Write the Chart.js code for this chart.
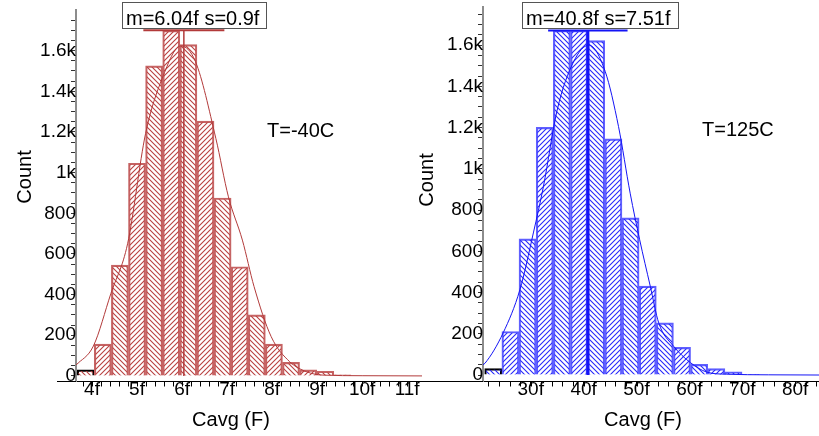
<!DOCTYPE html>
<html>
<head>
<meta charset="utf-8">
<script src="https://cdn.jsdelivr.net/npm/chart.js@4.4.1/dist/chart.umd.min.js"></script>
<style>
  body { margin: 0; background: #fff; }
  #wrap { position: relative; width: 819px; height: 436px; overflow: hidden; }
  canvas { position: absolute; top: 0; }
  #cold { left: 0; }
  #hot { left: 410px; }
</style>
</head>
<body>
<div id="wrap">
  <canvas id="cold" width="423" height="436"></canvas>
  <canvas id="hot" width="409" height="436"></canvas>
</div>
<script>
// T=-40C histogram (bin centres in fF, counts)
var coldBins = [3.86, 4.24, 4.62, 5.00, 5.38, 5.76, 6.14, 6.52, 6.90, 7.28, 7.66, 8.04, 8.42, 8.80, 9.18, 9.56];
var coldCounts = [30, 156, 545, 1046, 1525, 1700, 1630, 1253, 875, 537, 300, 156, 67, 30, 23, 5];
// fitted normal curve
var coldFitX = [3.644, 4.03, 4.42, 4.79, 5.19, 5.56, 5.97, 6.30, 6.75, 7.03, 7.34, 7.60, 7.98, 8.39, 8.76, 9.13, 10.0, 11.33];
var coldFitY = [53, 147, 406, 650, 1193, 1464, 1623, 1545, 1169, 881, 668, 439, 193, 70, 21, 4, 1, 0];
var coldMean = 6.04;
var coldSigma = 0.9;
var coldTickValues = [4, 5, 6, 7, 8, 9, 10, 11];
var coldTickLabels = ['4f', '5f', '6f', '7f', '8f', '9f', '10f', '11f'];

// T=125C histogram
var hotBins = [22.92, 26.17, 29.41, 32.66, 35.90, 39.14, 42.38, 45.63, 48.87, 52.12, 55.36, 58.60, 61.84, 65.09, 68.33, 71.58];
var hotCounts = [31, 211, 660, 1201, 1671, 1671, 1622, 1145, 762, 431, 253, 134, 52, 31, 16, 3];
var hotFitX = [20.98, 21.35, 24.8, 27.97, 30.5, 32.4, 35.0, 38.1, 41.0, 44.1, 46.6, 48.8, 50.6, 52.6, 54.2, 57.0, 60.2, 63.3, 67.0, 75.0, 84.5];
var hotFitY = [50, 57, 205, 415, 689, 914, 1285, 1519, 1600, 1471, 1205, 882, 656, 431, 253, 140, 60, 14, 4, 1, 0];
var hotMean = 40.8;
var hotSigma = 7.51;
var hotTickValues = [30, 40, 50, 60, 70, 80];
var hotTickLabels = ['30f', '40f', '50f', '60f', '70f', '80f'];

var countTickValues = [0, 200, 400, 600, 800, 1000, 1200, 1400, 1600];
var countTickLabels = ['0', '200', '400', '600', '800', '1k', '1.2k', '1.4k', '1.6k'];

var FONT = '"Liberation Sans", Arial, sans-serif';

function hatch(color, dir) {
  var size = 5;
  var c = document.createElement('canvas');
  c.width = size; c.height = size;
  var g = c.getContext('2d');
  g.strokeStyle = color;
  g.lineWidth = 1.1;
  g.beginPath();
  if (dir > 0) {
    g.moveTo(-1, size + 1); g.lineTo(size + 1, -1);
    g.moveTo(-1, 1); g.lineTo(1, -1);
    g.moveTo(size - 1, size + 1); g.lineTo(size + 1, size - 1);
  } else {
    g.moveTo(-1, -1); g.lineTo(size + 1, size + 1);
    g.moveTo(size - 1, -1); g.lineTo(size + 1, 1);
    g.moveTo(-1, size - 1); g.lineTo(1, size + 1);
  }
  g.stroke();
  return g.createPattern(c, 'repeat');
}

// texts, minor x ticks and the x axis line that runs past the y axis
var notesPlugin = {
  id: 'notes',
  afterDraw: function(chart, args, opts) {
    var ctx = chart.ctx;
    var xs = chart.scales.x;
    var ay = Math.round(xs.top) + 0.5;
    ctx.save();
    ctx.strokeStyle = '#000';
    ctx.lineWidth = 1;
    ctx.beginPath();
    ctx.moveTo(opts.axisFrom, ay);
    ctx.lineTo(chart.chartArea.left, ay);
    for (var v = Math.ceil(xs.min / opts.minorStep) * opts.minorStep; v <= xs.max; v += opts.minorStep) {
      var px = Math.round(xs.getPixelForValue(v)) + 0.5;
      ctx.moveTo(px, ay);
      ctx.lineTo(px, ay + 5);
    }
    ctx.stroke();

    ctx.font = '20px ' + FONT;
    ctx.textBaseline = 'alphabetic';
    ctx.textAlign = 'left';
    ctx.fillStyle = '#fff';
    ctx.fillRect(opts.box[0], opts.box[1], opts.box[2], opts.box[3]);
    ctx.fillStyle = '#000';
    ctx.strokeStyle = '#555';
    ctx.strokeRect(opts.box[0] + 0.5, opts.box[1] + 0.5, opts.box[2], opts.box[3]);
    ctx.fillText(opts.stats, opts.box[0] + 4, 25);
    ctx.fillText(opts.temp, opts.tempAt[0], opts.tempAt[1]);

    ctx.textAlign = 'center';
    ctx.fillText('Cavg (F)', opts.xTitle[0], opts.xTitle[1]);
    ctx.translate(opts.yTitle[0], opts.yTitle[1]);
    ctx.rotate(-Math.PI / 2);
    ctx.fillText('Count', 0, 0);
    ctx.restore();
  }
};

function drawHist(id, s) {
  var back = hatch(s.hatch, -1);
  var fwd = hatch(s.hatch, 1);
  var top = Math.max.apply(null, s.counts);
  new Chart(document.getElementById(id), {
    type: 'bar',
    data: {
      datasets: [{
        type: 'line',
        data: s.fitX.map(function(x, i) { return { x: x, y: s.fitY[i] }; }),
        borderColor: s.line,
        borderWidth: 1,
        pointRadius: 0,
        cubicInterpolationMode: 'monotone',
        order: 0
      }, {
        type: 'line',
        data: [{ x: s.mean, y: 0 }, { x: s.mean, y: top }],
        borderColor: s.line,
        borderWidth: s.meanWidth,
        pointRadius: 0,
        order: 0
      }, {
        type: 'line',
        data: [{ x: s.mean - s.sigma, y: top }, { x: s.mean + s.sigma, y: top }],
        borderColor: s.line,
        borderWidth: 2,
        pointRadius: 0,
        order: 0
      }, {
        type: 'bar',
        data: s.bins.map(function(b, i) { return { x: b, y: s.counts[i] }; }),
        backgroundColor: s.counts.map(function(c, i) { return i % 2 ? fwd : back; }),
        borderColor: s.counts.map(function(c, i) { return i === 0 ? '#000' : s.border; }),
        borderWidth: 1.5,
        barPercentage: 1,
        categoryPercentage: 1,
        order: 1
      }]
    },
    options: {
      responsive: false,
      animation: false,
      devicePixelRatio: 1,
      layout: { padding: { top: s.padTop, right: s.padRight, left: 0, bottom: 0 } },
      plugins: {
        legend: { display: false },
        tooltip: { enabled: false },
        notes: s.notes
      },
      scales: {
        x: {
          type: 'linear',
          offset: false,
          min: s.xMin,
          max: s.xMax,
          afterFit: function(sc) { sc.height = 436 - 381; sc.paddingLeft = 0; sc.paddingRight = 0; },
          ticks: {
            stepSize: s.majorStep,
            includeBounds: false,
            autoSkip: false,
            maxRotation: 0,
            padding: -8,
            color: '#000',
            font: { family: FONT, size: 19 },
            callback: function(v) {
              for (var i = 0; i < s.tickValues.length; i++) {
                if (Math.abs(v - s.tickValues[i]) < 1e-6) return s.tickLabels[i];
              }
              return '';
            }
          },
          grid: { offset: false, drawOnChartArea: false, tickLength: 5, tickColor: '#000' },
          border: { color: '#000', width: 1 }
        },
        y: {
          min: s.yMin,
          max: s.yMax,
          afterFit: function(sc) { sc.width = s.yWidth; sc.paddingTop = 0; sc.paddingBottom = 0; },
          afterBuildTicks: function(sc) {
            sc.ticks = sc.ticks.filter(function(t) { return t.value >= 0 && t.value <= 1750; });
          },
          ticks: {
            stepSize: 50,
            includeBounds: false,
            autoSkip: false,
            padding: -5,
            color: '#000',
            font: { family: FONT, size: 19 },
            callback: function(v) {
              var i = countTickValues.indexOf(v);
              return i >= 0 ? countTickLabels[i] : '';
            }
          },
          grid: { drawOnChartArea: false, tickLength: 5, tickColor: '#333' },
          border: { color: '#8c8c8c', width: 2 }
        }
      }
    },
    plugins: [notesPlugin]
  });
}

drawHist('cold', {
  bins: coldBins, counts: coldCounts, fitX: coldFitX, fitY: coldFitY,
  mean: coldMean, sigma: coldSigma,
  tickValues: coldTickValues, tickLabels: coldTickLabels,
  xMin: 3.644, xMax: 11.33, majorStep: 1,
  yMin: -25, yMax: 1800, padTop: 10, padRight: 1, yWidth: 76,
  line: 'rgb(178,58,58)', hatch: 'rgb(185,65,65)', border: 'rgb(198,100,100)',
  meanWidth: 1.5,
  notes: {
    axisFrom: 57, minorStep: 0.2,
    box: [122, 2, 144, 26], stats: 'm=6.04f s=0.9f',
    temp: 'T=-40C', tempAt: [267, 137],
    xTitle: [231, 426], yTitle: [30.5, 177]
  }
});

drawHist('hot', {
  bins: hotBins, counts: hotCounts, fitX: hotFitX, fitY: hotFitY,
  mean: hotMean, sigma: hotSigma,
  tickValues: hotTickValues, tickLabels: hotTickLabels,
  xMin: 20.98, xMax: 84.5, majorStep: 10,
  yMin: -29, yMax: 1785, padTop: 7, padRight: 0, yWidth: 73,
  line: 'rgb(20,20,245)', hatch: 'rgb(40,40,250)', border: 'rgb(95,95,255)',
  meanWidth: 3,
  notes: {
    axisFrom: 12, minorStep: 2,
    box: [112, 2, 156, 26], stats: 'm=40.8f s=7.51f',
    temp: 'T=125C', tempAt: [292, 136],
    xTitle: [233, 426], yTitle: [23.3, 180]
  }
});
</script>
</body>
</html>
